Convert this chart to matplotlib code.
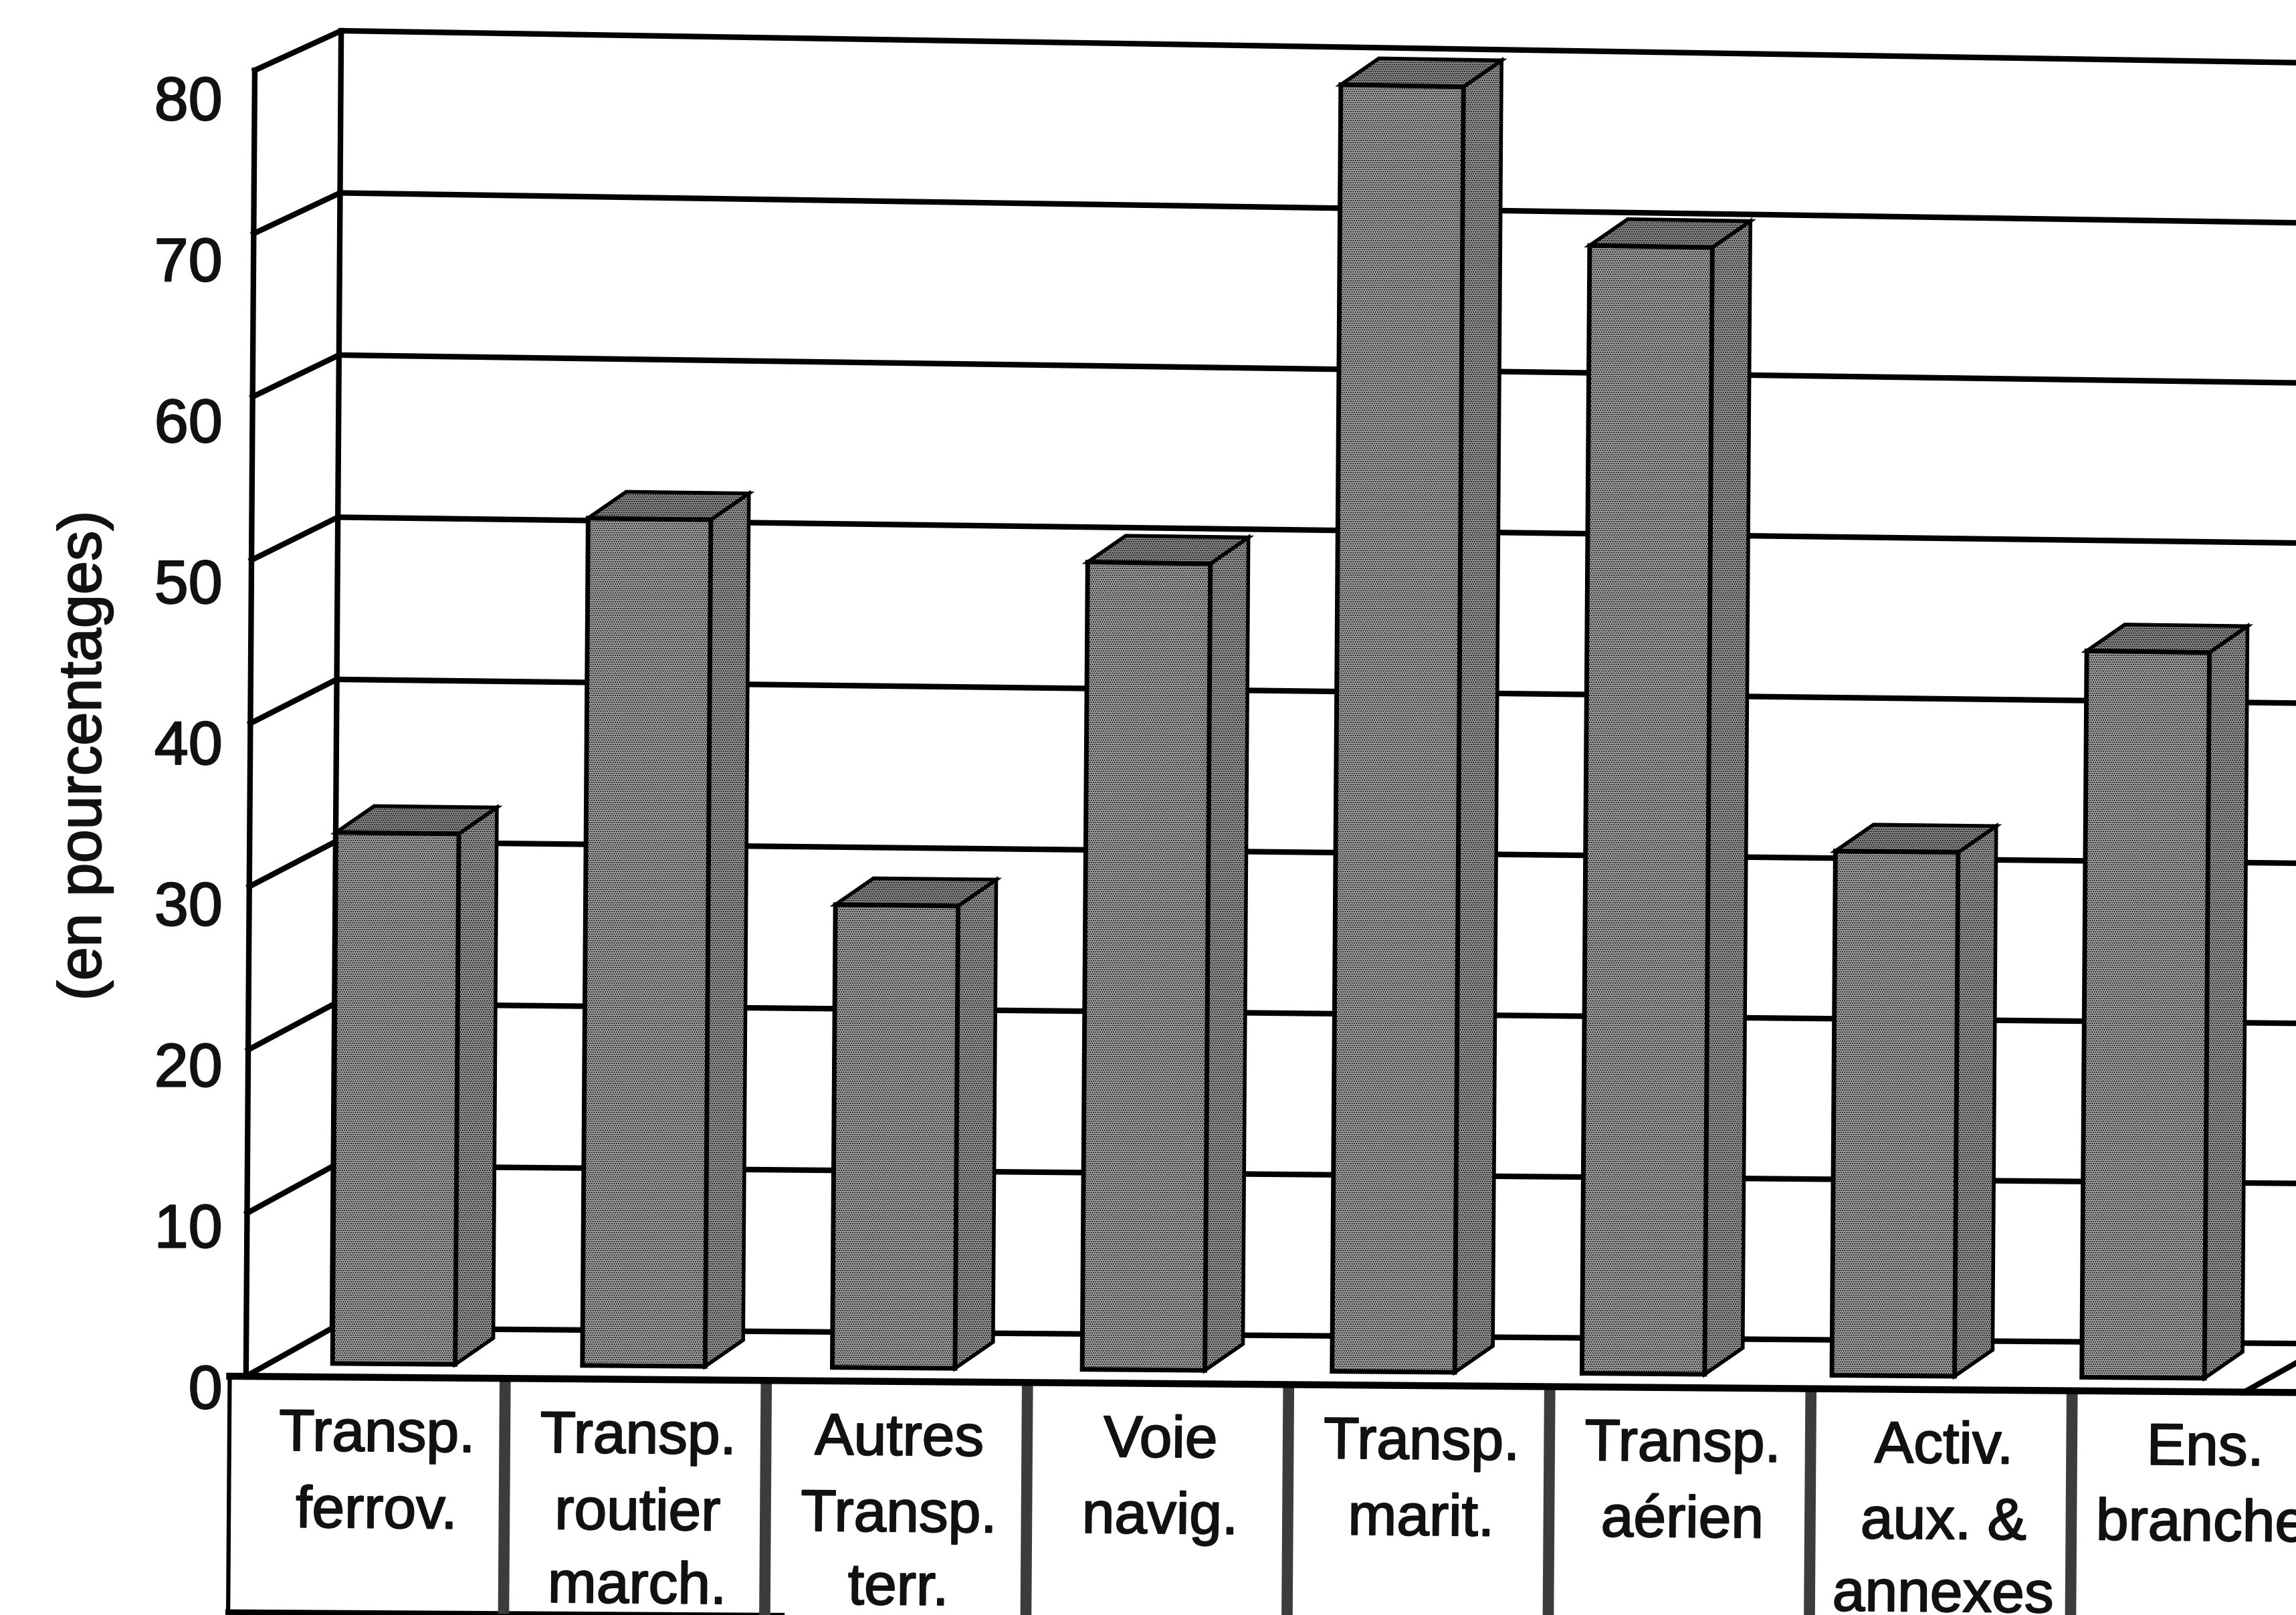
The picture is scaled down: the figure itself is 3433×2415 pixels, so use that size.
import numpy as np
import matplotlib
matplotlib.use('Agg')
import matplotlib.pyplot as plt
import matplotlib.patheffects as pe

plt.rcParams['font.family'] = ['Liberation Sans', 'DejaVu Sans']
plt.rcParams['hatch.linewidth'] = 1.0

# Valeurs
values = [32.6, 52.1, 28.5, 49.8, 79.5, 69.8, 32.5, 45.1]
cell_labels = [
    ['Transp.', 'ferrov.'],
    ['Transp.', 'routier', 'march.'],
    ['Autres', 'Transp.', 'terr.'],
    ['Voie', 'navig.'],
    ['Transp.', 'marit.'],
    ['Transp.', 'aérien'],
    ['Activ.', 'aux. &', 'annexes'],
    ['Ens.', 'branches'],
]
y_ticks = [0, 10, 20, 30, 40, 50, 60, 70, 80]
y_label = '(en pourcentages)'


# Fausse perspective : u = rang de la barre, v = pourcentage, d = profondeur
def to_px(u, v, d=0.0):
    x = 168 + 171 * u + 0.075 * v + 59 * d
    y = 940 - 11.15 * v + d * (-33 + 0.075 * v) + u * (1.35 + 0.018 * v)
    return x, y


def cell_u(k):
    return 1.035 + 1.043 * k


fig = plt.figure(figsize=(34.33, 24.15), dpi=100)
ax = fig.add_axes([0, 0, 1, 1])
ax.set_xlim(0, 1568)
ax.set_ylim(1103, 0)
ax.axis('off')

LINE = 6
u_end = 7.98
bold_text = [pe.withStroke(linewidth=1.5, foreground='#111111')]

# Mur du fond et mur de gauche
for tick in y_ticks:
    x0, y0 = to_px(0, tick)
    x1, y1 = to_px(0, tick, 1)
    x2, y2 = to_px(u_end, tick, 1)
    ax.plot([x0, x1, x2], [y0, y1, y2], color='black', lw=LINE, zorder=1)

xs, ys = to_px(0, np.array([0, 80]))
ax.plot(xs, ys, color='black', lw=LINE, zorder=2)
xs, ys = to_px(0, np.array([0, 80]), 1)
ax.plot(xs, ys, color='black', lw=LINE, zorder=1)

# Bord droit du sol
xs, ys = to_px(u_end, 0, np.array([0, 1]))
ax.plot(xs, ys, color='black', lw=LINE, zorder=1)

# Barres
for i, val in enumerate(values):
    u = 0.25 + 0.998 * i
    w = 0.49
    xl0, yl0 = to_px(u, 0, 0.277)
    xl1, yl1 = to_px(u, val, 0.277)
    xr0, yr0 = to_px(u + w, 0, 0.277)
    xr1, yr1 = to_px(u + w, val, 0.277)
    dx, dy = 26, -18
    ax.fill([xr0, xr1, xr1 + dx, xr0 + dx], [yr0, yr1, yr1 + dy, yr0 + dy],
            facecolor='#9c9c9c', edgecolor='black', lw=4, hatch='.....', zorder=3)
    ax.fill([xl1, xr1, xr1 + dx, xl1 + dx], [yl1, yr1, yr1 + dy, yl1 + dy],
            facecolor='#8e8e8e', edgecolor='black', lw=4, hatch='.....', zorder=3)
    ax.fill([xl0, xl1, xr1, xr0], [yl0, yl1, yr1, yr0],
            facecolor='#a8a8a8', edgecolor='black', lw=5, hatch='.....', zorder=4)

# Tableau des libellés
v_bottom = -14.45
xs, ys = to_px(np.array([-0.065, 8.2]), 0)
ax.plot(xs, ys, color='black', lw=LINE + 1.5, zorder=6)
xs, ys = to_px(np.array([-0.065, 8.2]), v_bottom)
ax.plot(xs, ys, color='black', lw=LINE, zorder=5)
xs, ys = to_px(-0.065, np.array([0, v_bottom]))
ax.plot(xs, ys, color='black', lw=LINE - 1.5, zorder=5)
for k in range(len(cell_labels)):
    xs, ys = to_px(cell_u(k), np.array([0, v_bottom]))
    ax.plot(xs, ys, color='#3c3c3c', lw=12, solid_capstyle='butt', zorder=5)

row_v = [-3.6, -8.3, -12.8]
for k, lines in enumerate(cell_labels):
    for row, txt in enumerate(lines):
        x, y = to_px(cell_u(k - 0.5), row_v[row])
        if txt == 'branches':
            x += 8
        ax.text(x + 2, y, txt, ha='center', va='center', fontsize=63,
                rotation=-0.5, color='#111111', zorder=7, path_effects=bold_text)

# Graduations
for tick in y_ticks:
    ax.text(152, 951 - 11 * tick, str(tick), ha='right', va='center',
            fontsize=66, color='#111111', path_effects=bold_text)

ax.text(58, 516, y_label, rotation=90, ha='center', va='center',
        fontsize=65, color='#111111', path_effects=bold_text)

fig.savefig('out.png', dpi=100)
